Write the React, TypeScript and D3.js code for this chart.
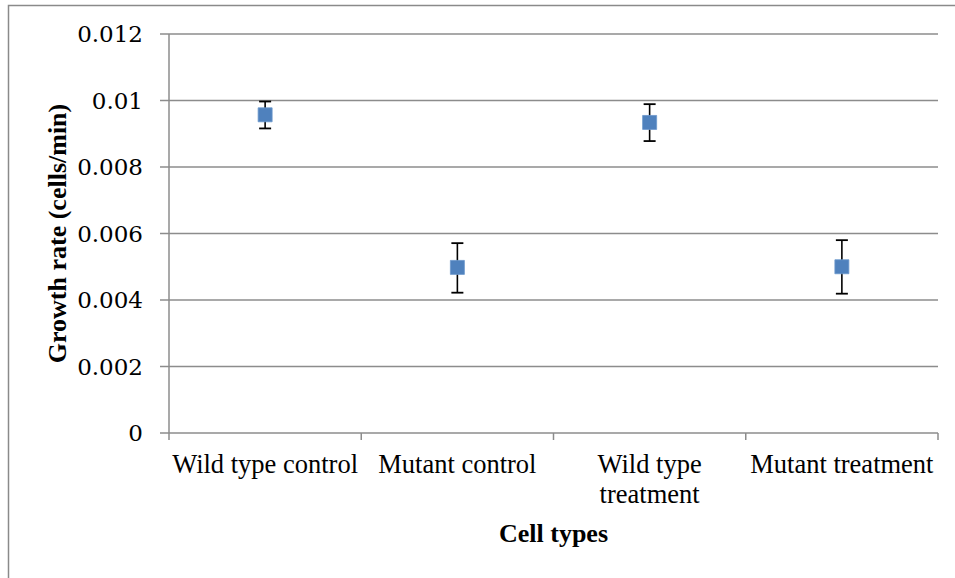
import React, { useEffect, useRef } from 'react';
import * as d3 from 'd3';

const categories = ['Wild type control', 'Mutant control', 'Wild type treatment', 'Mutant treatment'];
const rates = [0.00957, 0.00498, 0.00934, 0.005];
const errLow = [0.00916, 0.00422, 0.00878, 0.00419];
const errHigh = [0.00997, 0.00571, 0.00989, 0.0058];
const yTicks = [0, 0.002, 0.004, 0.006, 0.008, 0.01, 0.012];

const W = 955;
const H = 578;
const margin = { top: 34, right: 17, bottom: 145, left: 169 };

export default function App() {
  const ref = useRef<SVGSVGElement>(null);

  useEffect(() => {
    if (!ref.current) return;
    const svg = d3.select(ref.current);
    svg.selectAll('*').remove();

    // outer frame (only top and left edges show)
    svg.append('path')
      .attr('d', `M8.5,${H} V5.5 H${W}`)
      .attr('fill', 'none')
      .attr('stroke', '#8a8a8a')
      .attr('stroke-width', 1.5);

    const x = d3.scaleBand<string>()
      .domain(categories)
      .range([margin.left, W - margin.right])
      .padding(0);

    const y = d3.scaleLinear()
      .domain([0, 0.012])
      .range([H - margin.bottom, margin.top]);

    const g = svg.append('g');

    // gridlines + y labels
    yTicks.forEach(t => {
      g.append('line')
        .attr('x1', margin.left - 9)
        .attr('x2', W - margin.right)
        .attr('y1', y(t))
        .attr('y2', y(t))
        .attr('stroke', '#8c8c8c')
        .attr('stroke-width', 1.5);
      g.append('text')
        .attr('x', 143)
        .attr('y', y(t))
        .attr('dy', '0.36em')
        .attr('text-anchor', 'end')
        .attr('font-family', '"DejaVu Serif", serif')
        .attr('font-size', 23)
        .attr('fill', '#000')
        .text(t === 0 ? '0' : String(t));
    });

    // y axis line
    g.append('line')
      .attr('x1', margin.left).attr('x2', margin.left)
      .attr('y1', margin.top).attr('y2', y(0))
      .attr('stroke', '#8c8c8c')
      .attr('stroke-width', 1.5);

    // x tick marks at band edges
    const edges = categories.map(c => x(c)!).concat([W - margin.right]);
    edges.forEach(e => {
      g.append('line')
        .attr('x1', e).attr('x2', e)
        .attr('y1', y(0)).attr('y2', y(0) + 7)
        .attr('stroke', '#8c8c8c')
        .attr('stroke-width', 1.5);
    });

    // x labels with wrapping
    categories.forEach(c => {
      const cx = x(c)! + x.bandwidth() / 2;
      const text = g.append('text')
        .attr('x', cx)
        .attr('y', 473)
        .attr('text-anchor', 'middle')
        .attr('font-family', '"Liberation Serif", "Times New Roman", serif')
        .attr('font-size', 26.5)
        .attr('fill', '#000');
      const words = c.split(' ');
      let line: string[] = [];
      let tspan = text.append('tspan').attr('x', cx).attr('dy', 0);
      words.forEach(w => {
        line.push(w);
        tspan.text(line.join(' '));
        const len = (tspan.node() as SVGTextContentElement).getComputedTextLength();
        if (len > x.bandwidth() - 2 && line.length > 1) {
          line.pop();
          tspan.text(line.join(' '));
          line = [w];
          tspan = text.append('tspan').attr('x', cx).attr('dy', 30).text(w);
        }
      });
    });

    // error bars
    categories.forEach((c, i) => {
      const cx = x(c)! + x.bandwidth() / 2;
      g.append('line')
        .attr('x1', cx).attr('x2', cx)
        .attr('y1', y(errLow[i])).attr('y2', y(errHigh[i]))
        .attr('stroke', '#000').attr('stroke-width', 1.6);
      [errLow[i], errHigh[i]].forEach(v => {
        g.append('line')
          .attr('x1', cx - 6).attr('x2', cx + 6)
          .attr('y1', y(v)).attr('y2', y(v))
          .attr('stroke', '#000').attr('stroke-width', 1.8);
      });
    });

    // markers
    const sym = d3.symbol().type(d3.symbolSquare).size(196);
    categories.forEach((c, i) => {
      const cx = x(c)! + x.bandwidth() / 2;
      g.append('path')
        .attr('d', sym()!)
        .attr('transform', `translate(${cx},${y(rates[i])})`)
        .attr('fill', '#4f81bd')
        .attr('stroke', '#6b97cc')
        .attr('stroke-width', 0.8);
    });

    // axis titles
    g.append('text')
      .attr('x', (margin.left + W - margin.right) / 2)
      .attr('y', 542)
      .attr('text-anchor', 'middle')
      .attr('font-family', '"Liberation Serif", "Times New Roman", serif')
      .attr('font-weight', 'bold')
      .attr('font-size', 26)
      .attr('fill', '#000')
      .text('Cell types');

    g.append('text')
      .attr('transform', `translate(66,${(y(0) + margin.top) / 2}) rotate(-90)`)
      .attr('text-anchor', 'middle')
      .attr('font-family', '"Liberation Serif", "Times New Roman", serif')
      .attr('font-weight', 'bold')
      .attr('font-size', 26)
      .attr('fill', '#000')
      .text('Growth rate (cells/min)');
  }, []);

  return (
    <svg
      ref={ref}
      width={W}
      height={H}
      style={{ position: 'absolute', left: 0, top: 0, background: '#fff' }}
    />
  );
}
